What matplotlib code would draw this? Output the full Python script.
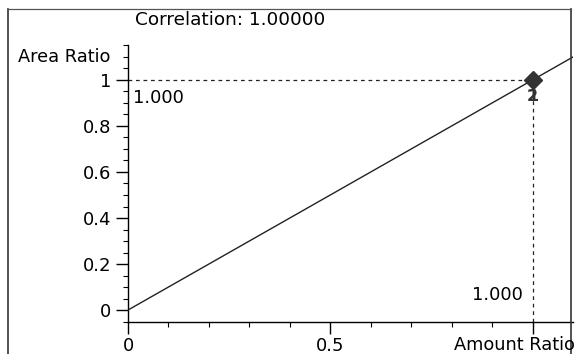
import matplotlib
matplotlib.use('Agg')
import matplotlib.pyplot as plt
from matplotlib.lines import Line2D
import numpy as np

plt.rcParams.update({
    'font.family': 'DejaVu Sans',
    'font.size': 12,
})

# calibration points (amount ratio, area ratio)
amount = [1.0]
area = [1.0]
point_ids = ['1', '2']
slope = 1.0
intercept = 0.0
correlation = 1.00000

W, H = 575, 354
fig = plt.figure(figsize=(W / 100, H / 100), dpi=100)
ax = fig.add_axes([128 / W, 1 - 322 / H, 445 / W, 277 / H])

xmin, xmax = 0.0, 1.1
ymin, ymax = -0.052, 1.152
ax.set_xlim(xmin, xmax)
ax.set_ylim(ymin, ymax)

# regression line
xs = np.array([0.0, xmax])
ax.plot(xs, slope * xs + intercept, color='#222222', lw=1.0, zorder=3)

# dashed guides to the point
for x, y in zip(amount, area):
    ax.plot([0, x], [y, y], color='#222222', lw=0.9, ls=(0, (3, 3)), zorder=2)
    ax.plot([x, x], [ymin, y], color='#222222', lw=0.9, ls=(0, (3, 3)), zorder=2)
    ax.text(0.012, y - 0.078, f'{y:.3f}', ha='left', va='center', fontsize=13)
    ax.text(x - 0.025, 0.065, f'{x:.3f}', ha='right', va='center', fontsize=13)
    for pid in point_ids:
        ax.text(x, y - 0.04, pid, ha='center', va='top', fontsize=11.5,
                fontweight='bold', color='#333333', zorder=5)

ax.plot(amount, area, marker='D', ms=9.5, color='#333333', ls='none', zorder=6)

# axes styling
for s in ['top', 'right']:
    ax.spines[s].set_visible(False)
ax.spines['left'].set_linewidth(1.0)
ax.spines['bottom'].set_linewidth(1.0)

ax.set_xticks([0, 0.5, 1.0])
ax.set_xticklabels(['0', '0.5', ''])
ax.set_xticks(np.arange(0, 1.1, 0.1), minor=True)
ax.set_yticks([0, 0.2, 0.4, 0.6, 0.8, 1.0])
ax.set_yticklabels(['0', '0.2', '0.4', '0.6', '0.8', '1'])
ax.set_yticks(np.arange(-0.05, 1.16, 0.05), minor=True)
ax.tick_params(axis='both', which='major', direction='out', length=8.5, width=1.0,
               labelsize=13)
ax.tick_params(axis='y', which='major', pad=3.5)
ax.tick_params(axis='x', which='major', pad=2)
ax.tick_params(axis='both', which='minor', direction='out', length=3.5, width=0.8)

fig.text(110 / W, 1 - 57 / H, 'Area Ratio', ha='right', va='center', fontsize=12.8)
fig.text(454 / W, 1 - 345 / H, 'Amount Ratio', ha='left', va='center', fontsize=12.8)
fig.text(230 / W, 1 - 20 / H, f'Correlation: {correlation:.5f}', ha='center',
         va='center', fontsize=13.3)

# outer frame
fig.add_artist(Line2D([8 / W, 8 / W], [0, 1 - 9 / H], transform=fig.transFigure,
                      color='#333333', lw=1.2))
fig.add_artist(Line2D([571 / W, 571 / W], [0, 1 - 9 / H], transform=fig.transFigure,
                      color='#333333', lw=1.2))
fig.add_artist(Line2D([8 / W, 571 / W], [1 - 9 / H, 1 - 9 / H], transform=fig.transFigure,
                      color='#555555', lw=0.9))

fig.savefig('out.png', dpi=100)
